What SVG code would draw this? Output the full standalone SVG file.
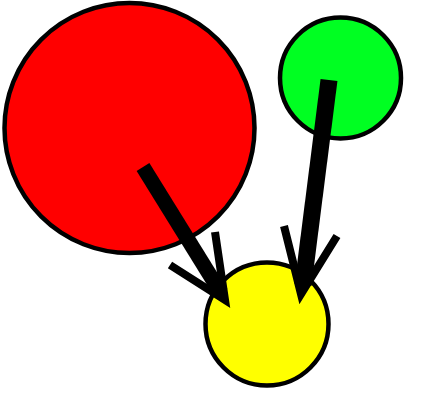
<svg xmlns="http://www.w3.org/2000/svg" width="445" height="407" viewBox="0 0 445 407">
<style>
.node{stroke:#000;stroke-width:4.5}
.shaft{stroke:#000;fill:none;stroke-linecap:butt}
.wing{stroke:#000;fill:none;stroke-width:8;stroke-linejoin:miter;stroke-miterlimit:10}
</style>
<rect width="445" height="407" fill="#fff"/>
<g id="red"><circle class="node" cx="129.5" cy="128" r="125" fill="#ff0000"/></g>
<g id="green"><circle class="node" cx="340.5" cy="78" r="60.5" fill="#00ff22"/></g>
<g id="yellow"><circle class="node" cx="267" cy="324" r="61.5" fill="#ffff00"/></g>
<g id="connectors">
<path class="shaft" stroke-width="15" d="M143,167 L221,293"/>
<polyline class="wing" points="170,265 225,300 215,232"/>
<path class="shaft" stroke-width="17" d="M329,80 L303,285"/>
<polyline class="wing" points="284,226 301,294 337,236"/>
</g>
</svg>
